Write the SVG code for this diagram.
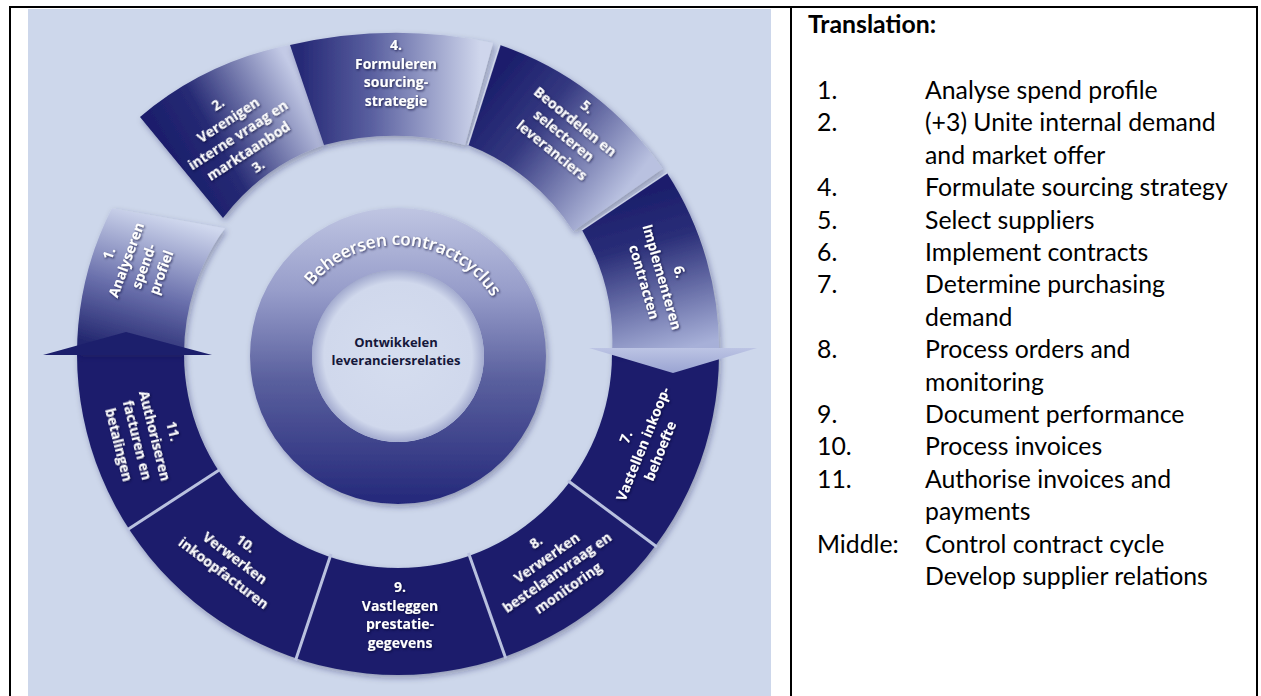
<svg xmlns="http://www.w3.org/2000/svg" width="1261" height="696" viewBox="0 0 1261 696">
<style>
.lab{font-family:'Open Sans','Noto Sans',sans-serif;font-size:14px;font-weight:700;fill:#ffffff;text-anchor:middle}
.mid{font-family:'Open Sans','Noto Sans',sans-serif;font-size:13px;font-weight:700;fill:#15173a;text-anchor:middle}
.arc{font-family:'Open Sans','Noto Sans',sans-serif;font-size:17px;font-weight:600;fill:#ffffff;text-anchor:middle}
.tr{font-family:Lato,'Open Sans',sans-serif;font-size:24.8px;fill:#000000}
.sep{stroke:#b9c1df;stroke-width:3;fill:none}
.band{fill:#1c1f6c}
.edge{stroke:#dfe5f4;stroke-width:1.5;fill:none;opacity:0.8}
.brd{stroke:#000;stroke-width:2;fill:none}
</style>
<defs>
<filter id="ts" x="-20%" y="-40%" width="140%" height="180%"><feDropShadow dx="1" dy="1.2" stdDeviation="0.8" flood-color="#0a0c30" flood-opacity="0.75"/></filter>
<filter id="ds" x="-10%" y="-10%" width="120%" height="120%"><feDropShadow dx="2" dy="3" stdDeviation="3" flood-color="#1a1f50" flood-opacity="0.35"/></filter>
<linearGradient id="g1" gradientUnits="userSpaceOnUse" x1="130" y1="354" x2="168" y2="216"><stop offset="0" stop-color="#23276f"/><stop offset="0.45" stop-color="#6a70ac"/><stop offset="1" stop-color="#d0d8ee"/></linearGradient>
<linearGradient id="g2" gradientUnits="userSpaceOnUse" x1="181" y1="167" x2="307" y2="95"><stop offset="0" stop-color="#1c1f6c"/><stop offset="0.3" stop-color="#262a74"/><stop offset="1" stop-color="#c3cae6"/></linearGradient>
<linearGradient id="g4" gradientUnits="userSpaceOnUse" x1="300" y1="95" x2="480" y2="95"><stop offset="0" stop-color="#262976"/><stop offset="0.4" stop-color="#5a60a0"/><stop offset="1" stop-color="#cfd6ec"/></linearGradient>
<linearGradient id="g5" gradientUnits="userSpaceOnUse" x1="484" y1="95" x2="618" y2="200"><stop offset="0" stop-color="#1c1f6c"/><stop offset="0.35" stop-color="#343880"/><stop offset="1" stop-color="#b9c1e0"/></linearGradient>
<linearGradient id="g6" gradientUnits="userSpaceOnUse" x1="624" y1="200" x2="666" y2="354"><stop offset="0" stop-color="#1c1f6c"/><stop offset="0.3" stop-color="#2a2e78"/><stop offset="1" stop-color="#a7b0d8"/></linearGradient>
<linearGradient id="ga" gradientUnits="userSpaceOnUse" x1="0" y1="348" x2="0" y2="373"><stop offset="0" stop-color="#bcc4e4"/><stop offset="1" stop-color="#9aa4d2"/></linearGradient>
<linearGradient id="gm" gradientUnits="userSpaceOnUse" x1="0" y1="208" x2="0" y2="504"><stop offset="0" stop-color="#bfc5e2"/><stop offset="0.28" stop-color="#979dca"/><stop offset="0.58" stop-color="#5a609e"/><stop offset="1" stop-color="#24287a"/></linearGradient>
<radialGradient id="gd" gradientUnits="userSpaceOnUse" cx="398" cy="356" r="86"><stop offset="0" stop-color="#d5ddef"/><stop offset="0.86" stop-color="#d0d8ec"/><stop offset="1" stop-color="#a3abcf"/></radialGradient>
<path id="arcp" d="M 287,356 A 111 111 0 0 1 509,356"/>
</defs>

<!-- table frame -->
<g id="frame">
<rect x="0" y="0" width="1261" height="696" fill="#ffffff"/>
<rect x="28" y="9" width="743" height="687" fill="#cdd7eb"/>
<line class="brd" x1="10" y1="7" x2="1258" y2="7"/>
<line class="brd" x1="10" y1="6" x2="10" y2="696"/>
<line class="brd" x1="791" y1="6" x2="791" y2="696"/>
<line class="brd" x1="1257" y1="6" x2="1257" y2="696"/>
</g>

<!-- lower band (segments 7-11) -->
<g id="lower-band" filter="url(#ds)">
<path class="band" d="M 77,354 A 321 321 0 0 0 398,675 A 321 321 0 0 0 719,354 L 612,354 A 214 214 0 0 1 398,568 A 214 214 0 0 1 184,354 Z"/>
</g>

<g id="seg-1" filter="url(#ds)">
<path fill="url(#g1)" d="M 77,354 A 321 321 0 0 1 112,208.3 L 224.9,228.2 A 214 214 0 0 0 184,354 Z"/>
</g>
<g id="seg-2" filter="url(#ds)">
<path fill="url(#g2)" d="M 140,117 A 330 330 0 0 1 290,45 L 324,145 A 214 214 0 0 0 223,218 Z"/>
</g>
<g id="seg-4" filter="url(#ds)">
<path fill="url(#g4)" d="M 290,45 A 470 470 0 0 1 493,43 L 465,145 A 280 280 0 0 0 324,145 Z"/>
</g>
<g id="seg-5" filter="url(#ds)">
<path fill="url(#g5)" d="M 500,45 A 325 325 0 0 1 662.6,168.7 L 573.3,231.2 A 218 218 0 0 0 468,145 Z"/>
<line class="edge" x1="500" y1="45" x2="468" y2="145"/>
</g>
<g id="seg-6" filter="url(#ds)">
<path fill="url(#g6)" d="M 667,173 A 323 323 0 0 1 719,354 L 612,354 A 220 220 0 0 0 582,230 Z"/>
<line class="edge" x1="667" y1="173" x2="582" y2="230"/>
</g>

<g id="separators">
<line class="sep" x1="220" y1="469.5" x2="127" y2="530"/>
<line class="sep" x1="331" y1="554" x2="295.5" y2="660.5"/>
<line class="sep" x1="468.5" y1="553" x2="505.8" y2="658.5"/>
<line class="sep" x1="568" y1="480.7" x2="657" y2="547"/>
</g>

<g id="connectors">
<polygon fill="#1c1f6c" points="43,355 126,332 212,355"/>
<polygon fill="url(#ga)" points="589,348 757,348 673,373"/>
</g>

<!-- middle ring -->
<g id="middle-ring">
<path fill="url(#gm)" fill-rule="evenodd" filter="url(#ds)" d="M 250,356 a148,148 0 1,0 296,0 a148,148 0 1,0 -296,0 Z M 312,356 a86,86 0 1,0 172,0 a86,86 0 1,0 -172,0 Z"/>
<text class="arc" filter="url(#ts)"><textPath href="#arcp" startOffset="52%">Beheersen contractcyclus</textPath></text>
</g>
<g id="center">
<circle cx="398" cy="356" r="86" fill="url(#gd)"/>
<text class="mid" x="396" y="347">Ontwikkelen</text>
<text class="mid" x="396" y="365">leveranciersrelaties</text>
</g>

<!-- labels -->
<g class="labels" filter="url(#ts)">
<g id="label-1" transform="translate(135,263) rotate(-70)">
<text class="lab" y="-22.75">1.</text><text class="lab" y="-4.25">Analyseren</text><text class="lab" y="14.25">spend-</text><text class="lab" y="32.75">profiel</text>
</g>
<g id="label-2" transform="translate(238,135) rotate(-33)">
<text class="lab" y="-32">2.</text><text class="lab" y="-13.5">Verenigen</text><text class="lab" y="5">interne vraag en</text><text class="lab" y="23.5">marktaanbod</text><text class="lab" y="42">3.</text>
</g>
<g id="label-4" transform="translate(396,73)">
<text class="lab" y="-22.75">4.</text><text class="lab" y="-4.25">Formuleren</text><text class="lab" y="14.25">sourcing-</text><text class="lab" y="32.75">strategie</text>
</g>
<g id="label-5" transform="translate(569.5,128.6) rotate(39)">
<text class="lab" y="-22.75">5.</text><text class="lab" y="-4.25">Beoordelen en</text><text class="lab" y="14.25">selecteren</text><text class="lab" y="32.75">leveranciers</text>
</g>
<g id="label-6" transform="translate(662,277) rotate(74)">
<text class="lab" y="-13.5">6.</text><text class="lab" y="5">Implementeren</text><text class="lab" y="23.5">contracten</text>
</g>
<g id="label-7" transform="translate(643,444) rotate(-68)">
<text class="lab" y="-13.5">7.</text><text class="lab" y="5">Vastellen inkoop-</text><text class="lab" y="23.5">behoefte</text>
</g>
<g id="label-8" transform="translate(552,565) rotate(-35)">
<text class="lab" y="-22.75">8.</text><text class="lab" y="-4.25">Verwerken</text><text class="lab" y="14.25">bestelaanvraag en</text><text class="lab" y="32.75">monitoring</text>
</g>
<g id="label-9" transform="translate(400,615)">
<text class="lab" y="-22.75">9.</text><text class="lab" y="-4.25">Vastleggen</text><text class="lab" y="14.25">prestatie-</text><text class="lab" y="32.75">gegevens</text>
</g>
<g id="label-10" transform="translate(235,558) rotate(37)">
<text class="lab" y="-13.5">10.</text><text class="lab" y="5">Verwerken</text><text class="lab" y="23.5">inkoopfacturen</text>
</g>
<g id="label-11" transform="translate(146,438) rotate(76)">
<text class="lab" y="-22.75">11.</text><text class="lab" y="-4.25">Authoriseren</text><text class="lab" y="14.25">facturen en</text><text class="lab" y="32.75">betalingen</text>
</g>
</g>

<!-- translation panel -->
<g id="translation">
<text class="tr" x="808" y="33" font-weight="700" font-size="24">Translation:</text>
<text class="tr" x="817" y="99">1.</text><text class="tr" x="925" y="99">Analyse spend profile</text>
<text class="tr" x="817" y="131.4">2.</text><text class="tr" x="925" y="131.4">(+3) Unite internal demand</text>
<text class="tr" x="925" y="163.8">and market offer</text>
<text class="tr" x="817" y="196.2">4.</text><text class="tr" x="925" y="196.2">Formulate sourcing strategy</text>
<text class="tr" x="817" y="228.6">5.</text><text class="tr" x="925" y="228.6">Select suppliers</text>
<text class="tr" x="817" y="261">6.</text><text class="tr" x="925" y="261">Implement contracts</text>
<text class="tr" x="817" y="293.4">7.</text><text class="tr" x="925" y="293.4">Determine purchasing</text>
<text class="tr" x="925" y="325.8">demand</text>
<text class="tr" x="817" y="358.2">8.</text><text class="tr" x="925" y="358.2">Process orders and</text>
<text class="tr" x="925" y="390.6">monitoring</text>
<text class="tr" x="817" y="423">9.</text><text class="tr" x="925" y="423">Document performance</text>
<text class="tr" x="817" y="455.4">10.</text><text class="tr" x="925" y="455.4">Process invoices</text>
<text class="tr" x="817" y="487.8">11.</text><text class="tr" x="925" y="487.8">Authorise invoices and</text>
<text class="tr" x="925" y="520.2">payments</text>
<text class="tr" x="817" y="552.6">Middle:</text><text class="tr" x="925" y="552.6">Control contract cycle</text>
<text class="tr" x="925" y="585">Develop supplier relations</text>
</g>
</svg>
